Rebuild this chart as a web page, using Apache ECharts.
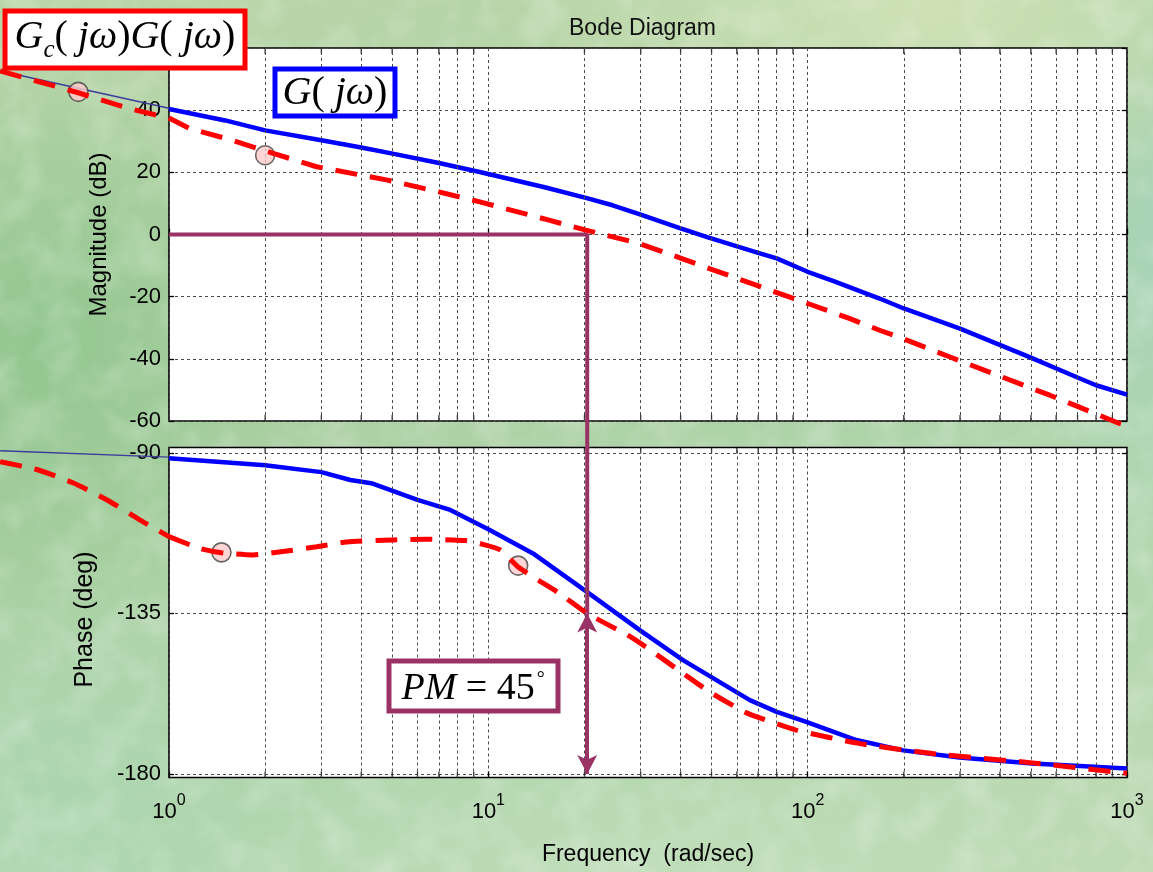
<!DOCTYPE html>
<html>
<head>
<meta charset="utf-8">
<title>Bode Diagram</title>
<script src="https://cdn.jsdelivr.net/npm/echarts@6/dist/echarts.min.js"></script>
<style>
  html, body { margin: 0; padding: 0; width: 1153px; height: 872px; overflow: hidden; }
  body {
    background-color: #b3d4a6;
    background-image:
      radial-gradient(ellipse 260px 300px at 40px 340px, rgba(142, 197, 140, 0.9), rgba(142, 197, 140, 0)),
      radial-gradient(ellipse 460px 210px at 930px 10px, rgba(208, 226, 182, 0.95), rgba(208, 226, 182, 0)),
      radial-gradient(ellipse 160px 300px at 1170px 240px, rgba(164, 212, 192, 0.7), rgba(164, 212, 192, 0)),
      radial-gradient(ellipse 520px 150px at 700px 880px, rgba(192, 222, 186, 0.85), rgba(192, 222, 186, 0)),
      radial-gradient(ellipse 260px 260px at 60px 820px, rgba(172, 214, 176, 0.9), rgba(172, 214, 176, 0)),
      linear-gradient(160deg, #bad6a9 0%, #acd0a3 40%, #b1d6ae 70%, #bddab3 100%);
  }
  /* soft mottled texture of the slide background */
  #texture {
    position: absolute; left: 0; top: 0; width: 1153px; height: 872px; opacity: 0.22;
    background-image: url("data:image/svg+xml;utf8,<svg xmlns='http://www.w3.org/2000/svg' width='1153' height='872'><filter id='f'><feTurbulence type='fractalNoise' baseFrequency='0.025' numOctaves='3' seed='7'/><feColorMatrix type='matrix' values='0 0 0 0 1  0 0 0 0 1  0 0 0 0 1  0 0 0 2.2 -0.9'/></filter><rect width='100%' height='100%' filter='url(%23f)'/></svg>");
  }
  #chart { position: absolute; left: 0; top: 0; width: 1153px; height: 872px; }
</style>
</head>
<body>
<div id="texture"></div>
<div id="chart"></div>
<script>
// ---- Open-loop plant G(jw): magnitude (dB) and phase (deg) ----
const freqMagG   = [1, 1.5, 2, 3, 4, 5.2, 7, 9.4, 15, 20.2, 24.5, 30, 40, 49, 70, 80, 100, 120, 168, 200, 300, 500, 700, 800, 1000];
const magG       = [40.4, 36.7, 33.5, 30.3, 28.0, 25.7, 23.0, 20.1, 15.2, 11.8, 9.4, 6.4, 2.0, -1.0, -5.9, -7.7, -12.0, -14.9, -20.6, -23.8, -30.3, -39.6, -46.0, -48.5, -51.5];
const freqPhaseG = [1, 2, 3, 3.7, 4.3, 6, 7.6, 10.1, 13.8, 20.3, 29.8, 40.7, 65.9, 80, 99, 142, 199, 299, 506, 1000];
const phaseG     = [-91.5, -93.5, -95.4, -97.6, -98.5, -103.2, -106, -111.6, -118.2, -128.9, -139.7, -148.1, -159.3, -162.6, -165.4, -170.5, -173.4, -175.4, -177.1, -178.5];

// Low-frequency continuation of G(jw) below 1 rad/sec
const freqExtG   = [0.296, 1];
const magExtG    = [52.6, 40.6];
const phaseExtG  = [-89.4, -91.2];

// ---- Compensated loop Gc(jw)G(jw) ----
const freqMagL   = [0.296, 0.4, 0.52, 0.75, 0.915, 1, 1.16, 1.58, 2.12, 2.9, 4.84, 7, 9.4, 15, 20.2, 29.7, 40, 50, 81.8, 100, 135, 168, 200, 279, 500, 573, 700, 930, 1000];
const magL       = [52.6, 48.9, 45.6, 40.5, 38.4, 37.5, 34.1, 30.3, 26.1, 21.8, 17.5, 13.7, 10.5, 5.0, 1.4, -2.9, -7.6, -11.2, -19.0, -22.2, -27.0, -30.8, -33.6, -39.4, -49.4, -51.7, -55.3, -60.5, -61.5];
const freqPhaseL = [0.296, 0.39, 0.5, 0.64, 0.81, 1, 1.25, 1.46, 1.83, 2.3, 2.9, 3.6, 5, 6.4, 8.5, 9.4, 10.9, 12.4, 16.7, 20.4, 28.4, 40.7, 49.3, 64, 70.8, 92, 146, 246, 506, 900, 1000];
const phaseL     = [-92.5, -94.8, -98.4, -103.2, -108.8, -113.5, -116.8, -118.0, -118.6, -117.6, -116.3, -115.0, -114.4, -114.2, -114.6, -115.4, -117.2, -122.0, -129.4, -135.0, -142.0, -151.8, -157.0, -162.8, -164.3, -167.7, -171.5, -174.3, -176.9, -179.4, -179.8];

// ---- Highlighted points ----
const markerFreqMag   = [0.52, 2.0];
const markerMag       = [45.9, 25.5];
const markerFreqPhase = [1.46, 12.4];
const markerPhase     = [-117.9, -121.6];

// ---- Gain crossover and phase margin ----
const crossoverFreq = 20.4;
const phaseMargin = 45;
const phaseAtCrossover = -180 + phaseMargin;

// ---- Axis scales ----
const freqRange = [1, 1000];
const freqLowRange = [0.2957, 1];          // strip left of the frames, same decade width
const magRange = [-60, 60];
const magStep = 20;
const phaseRange = [-181, -88.5];
const phaseTicks = [-180, -135, -90];
const minorFreqs = [2, 3, 4, 5, 6, 7, 8, 9, 20, 30, 40, 50, 60, 70, 80, 90, 200, 300, 400, 500, 600, 700, 800, 900];

const zip = (xs, ys) => xs.map((x, i) => [x, ys[i]]);
const upTo1 = pts => pts.filter(p => p[0] <= 1);
const from1 = pts => pts.filter(p => p[0] >= 1);

const sans = '"Liberation Sans", Arial, Helvetica, sans-serif';
const serif = '"Liberation Serif", "Times New Roman", serif';
const gridLine = { color: '#4a4a4a', width: 1, type: [3, 3] };
const PURPLE = '#993366';
const frameTick = { show: true, inside: true, length: 5, lineStyle: { color: '#000', width: 1.3 } };

const serifTok = (extra) => Object.assign({ fontSize: 40, fontFamily: serif, fontWeight: 'normal', color: '#000' }, extra);

function minorGrid(xi, yi) {
  return {
    type: 'line', xAxisIndex: xi, yAxisIndex: yi, data: [], z: 1, silent: true,
    markLine: {
      silent: true, symbol: 'none', animation: false,
      label: { show: false },
      lineStyle: gridLine,
      emphasis: { disabled: true },
      data: minorFreqs.map(f => ({ xAxis: f }))
    }
  };
}

function edgeTicks(xi, yi, yVal, offset) {
  return {
    type: 'scatter', xAxisIndex: xi, yAxisIndex: yi, silent: true, z: 2,
    symbol: 'rect', symbolSize: [1.3, 6], symbolOffset: [0, offset],
    itemStyle: { color: '#000' },
    data: minorFreqs.map(f => [f, yVal])
  };
}

function yAxisBase(gridIndex, extra) {
  return Object.assign({
    type: 'value', gridIndex: gridIndex,
    axisLine: { show: false },
    axisTick: frameTick,
    axisLabel: { color: '#000', fontSize: 22, fontFamily: sans, margin: 8 },
    splitLine: { show: true, lineStyle: gridLine },
    nameLocation: 'middle', nameRotate: 90,
    nameTextStyle: { color: '#000', fontSize: 24, fontFamily: sans }
  }, extra);
}

function rightAxis(gridIndex, extra) {
  return Object.assign({
    type: 'value', gridIndex: gridIndex, position: 'right',
    axisLine: { show: false },
    axisTick: frameTick,
    axisLabel: { show: false },
    splitLine: { show: false }
  }, extra);
}

function xAxisBase(gridIndex, withLabels) {
  const ax = {
    type: 'log', logBase: 10, gridIndex: gridIndex,
    min: freqRange[0], max: freqRange[1],
    axisLine: { show: false },
    axisTick: { show: true, inside: true, length: 6, lineStyle: { color: '#000', width: 1.3 } },
    splitLine: { show: true, lineStyle: gridLine },
    axisLabel: { show: false }
  };
  if (withLabels) {
    ax.axisLabel = {
      show: true, margin: 15,
      formatter: v => '{b|10}{s|' + Math.round(Math.log10(v)) + '}',
      rich: {
        b: { fontSize: 22, fontFamily: sans, color: '#000', lineHeight: 30, verticalAlign: 'bottom' },
        s: { fontSize: 16, fontFamily: sans, color: '#000', lineHeight: 30, verticalAlign: 'top' }
      }
    };
    ax.name = 'Frequency  (rad/sec)';
    ax.nameLocation = 'middle';
    ax.nameGap = 66;
    ax.nameTextStyle = { color: '#000', fontSize: 23, fontFamily: sans };
  }
  return ax;
}

// hidden axes for the strip left of the frames (frequencies below 1 rad/sec)
function lowXAxis(gridIndex) {
  return { type: 'log', logBase: 10, gridIndex: gridIndex, min: freqLowRange[0], max: freqLowRange[1], show: false, splitLine: { show: false } };
}
function lowYAxis(gridIndex, range) {
  return { type: 'value', gridIndex: gridIndex, min: range[0], max: range[1], show: false, splitLine: { show: false } };
}

const magPanel = { left: 169, top: 48, width: 958, height: 373 };
const phasePanel = { left: 169, top: 447.5, width: 958, height: 330 };
const frameStyle = { show: true, backgroundColor: '#fff', borderColor: '#000', borderWidth: 1.6 };

const chart = echarts.init(document.getElementById('chart'), null, { renderer: 'canvas' });

const redLine = { color: '#ff0000', width: 5, type: [22, 13] };
const thinBlue = { color: '#3c3c9c', width: 1.4 };

const option = {
  animation: false,
  backgroundColor: 'transparent',
  title: [
    {
      text: 'Bode Diagram', left: 564, top: 12,
      textStyle: { color: '#111', fontSize: 23, fontWeight: 'normal', fontFamily: sans }
    },
    {
      text: '{G|G}{c|c}{p|( }{i|jω}{p|)}{G|G}{p|( }{i|jω}{p|)}',
      left: 4.5, top: 5.5, padding: [7, 10, 6, 10],
      backgroundColor: '#fff', borderColor: '#ff0000', borderWidth: 5,
      textStyle: {
        fontWeight: 'normal',
        rich: {
          G: serifTok({ fontStyle: 'italic', lineHeight: 50 }),
          c: serifTok({ fontSize: 25, fontStyle: 'italic', lineHeight: 32, verticalAlign: 'bottom' }),
          p: serifTok({ lineHeight: 50 }),
          i: serifTok({ fontStyle: 'italic', lineHeight: 50 })
        }
      }
    },
    {
      text: '{G|G}{p|( }{i|jω}{p|)}',
      left: 274.5, top: 64.5, padding: [5, 8, 3, 8],
      backgroundColor: '#fff', borderColor: '#0000ff', borderWidth: 5,
      textStyle: {
        fontWeight: 'normal',
        rich: {
          G: serifTok({ fontStyle: 'italic', lineHeight: 48 }),
          p: serifTok({ lineHeight: 48 }),
          i: serifTok({ fontStyle: 'italic', lineHeight: 48 })
        }
      }
    },
    {
      text: '{i|PM}{p| = ' + phaseMargin + '}{d|°}',
      left: 388.5, top: 660.5, padding: [5, 13, 3, 13],
      backgroundColor: '#fff', borderColor: PURPLE, borderWidth: 5,
      textStyle: {
        fontWeight: 'normal',
        rich: {
          i: serifTok({ fontSize: 38, fontStyle: 'italic', lineHeight: 48 }),
          p: serifTok({ fontSize: 38, lineHeight: 48 }),
          d: serifTok({ fontSize: 20, lineHeight: 48, verticalAlign: 'top', padding: [4, 0, 0, 2] })
        }
      }
    }
  ],
  grid: [
    Object.assign({}, magPanel, frameStyle),
    Object.assign({}, phasePanel, frameStyle),
    { left: 0, top: magPanel.top, width: magPanel.left, height: magPanel.height, show: false },
    { left: 0, top: phasePanel.top, width: phasePanel.left, height: phasePanel.height, show: false }
  ],
  xAxis: [xAxisBase(0, false), xAxisBase(1, true), lowXAxis(2), lowXAxis(3)],
  yAxis: [
    yAxisBase(0, {
      min: magRange[0], max: magRange[1], interval: magStep,
      axisLabel: { color: '#000', fontSize: 22, fontFamily: sans, margin: 8, showMaxLabel: false },
      name: 'Magnitude (dB)', nameGap: 58
    }),
    rightAxis(0, { min: magRange[0], max: magRange[1], interval: magStep }),
    yAxisBase(1, {
      min: phaseRange[0], max: phaseRange[1],
      axisLabel: { color: '#000', fontSize: 22, fontFamily: sans, margin: 8, customValues: phaseTicks },
      axisTick: Object.assign({}, frameTick, { customValues: phaseTicks }),
      name: 'Phase (deg)', nameGap: 71,
      nameTextStyle: { color: '#000', fontSize: 25, fontFamily: sans, padding: [0, 14, 0, 0] }
    }),
    rightAxis(1, {
      min: phaseRange[0], max: phaseRange[1],
      axisTick: Object.assign({}, frameTick, { customValues: phaseTicks })
    }),
    lowYAxis(2, magRange),
    lowYAxis(3, phaseRange)
  ],
  series: [
    // minor decade grid lines
    minorGrid(0, 0),
    minorGrid(1, 2),
    // small inward ticks along the frame edges
    edgeTicks(0, 0, magRange[1], 3),
    edgeTicks(0, 0, magRange[0], -3),
    edgeTicks(1, 2, phaseRange[1], 3),
    edgeTicks(1, 2, phaseRange[0], -3),

    // G(jw) continued below 1 rad/sec (thin)
    {
      name: 'G extension', type: 'line', xAxisIndex: 2, yAxisIndex: 4, z: 3,
      showSymbol: false, silent: true, lineStyle: thinBlue,
      data: zip(freqExtG, magExtG)
    },
    {
      name: 'G extension', type: 'line', xAxisIndex: 3, yAxisIndex: 5, z: 3,
      showSymbol: false, silent: true, lineStyle: thinBlue,
      data: zip(freqExtG, phaseExtG)
    },

    // G(jw)
    {
      name: 'G(jω)', type: 'line', xAxisIndex: 0, yAxisIndex: 0, z: 4,
      showSymbol: false, silent: true,
      lineStyle: { color: '#0000ff', width: 4.5 },
      data: zip(freqMagG, magG)
    },
    {
      name: 'G(jω)', type: 'line', xAxisIndex: 1, yAxisIndex: 2, z: 4,
      showSymbol: false, silent: true,
      lineStyle: { color: '#0000ff', width: 4.5 },
      data: zip(freqPhaseG, phaseG)
    },

    // gain crossover guide: 0 dB line and drop to the phase plot
    {
      name: 'crossover', type: 'line', xAxisIndex: 0, yAxisIndex: 0, clip: false, z: 5,
      showSymbol: false, silent: true,
      lineStyle: { color: PURPLE, width: 4 },
      data: [[freqRange[0], 0], [crossoverFreq, 0], [crossoverFreq, -69]]
    },
    {
      name: 'phase margin', type: 'line', xAxisIndex: 1, yAxisIndex: 2, clip: false, z: 5,
      showSymbol: false, silent: true,
      lineStyle: { color: PURPLE, width: 4 },
      data: [[crossoverFreq, phaseRange[1]], [crossoverFreq, phaseAtCrossover]],
      markLine: {
        silent: true, animation: false,
        symbol: ['arrow', 'arrow'], symbolSize: [15, 19],
        label: { show: false },
        lineStyle: { color: PURPLE, width: 4, type: 'solid' },
        itemStyle: { color: PURPLE },
        data: [[{ coord: [crossoverFreq, phaseAtCrossover] }, { coord: [crossoverFreq, -180] }]]
      }
    },

    // highlighted points
    {
      name: 'points', type: 'scatter', xAxisIndex: 0, yAxisIndex: 0, clip: false, z: 6, silent: true,
      symbol: 'circle', symbolSize: 19,
      itemStyle: { color: '#ffcaca', borderColor: '#444', borderWidth: 1.6 },
      data: zip(markerFreqMag, markerMag)
    },
    {
      name: 'points', type: 'scatter', xAxisIndex: 1, yAxisIndex: 2, clip: false, z: 6, silent: true,
      symbol: 'circle', symbolSize: 19,
      itemStyle: { color: '#ffcaca', borderColor: '#444', borderWidth: 1.6 },
      data: zip(markerFreqPhase, markerPhase)
    },

    // Gc(jw)G(jw), dashed: inside the frames ...
    {
      name: 'Gc(jω)G(jω)', type: 'line', xAxisIndex: 0, yAxisIndex: 0, clip: false, z: 7,
      showSymbol: false, silent: true, lineStyle: redLine,
      data: from1(zip(freqMagL, magL))
    },
    {
      name: 'Gc(jω)G(jω)', type: 'line', xAxisIndex: 1, yAxisIndex: 2, clip: false, z: 7,
      showSymbol: false, silent: true, smooth: 0.2, lineStyle: redLine,
      data: from1(zip(freqPhaseL, phaseL))
    },
    // ... and below 1 rad/sec, left of the frames
    {
      name: 'Gc(jω)G(jω)', type: 'line', xAxisIndex: 2, yAxisIndex: 4, z: 7,
      showSymbol: false, silent: true, lineStyle: redLine,
      data: upTo1(zip(freqMagL, magL))
    },
    {
      name: 'Gc(jω)G(jω)', type: 'line', xAxisIndex: 3, yAxisIndex: 5, z: 7,
      showSymbol: false, silent: true, smooth: 0.2, lineStyle: redLine,
      data: upTo1(zip(freqPhaseL, phaseL))
    }
  ]
};

chart.setOption(option);
</script>
</body>
</html>
